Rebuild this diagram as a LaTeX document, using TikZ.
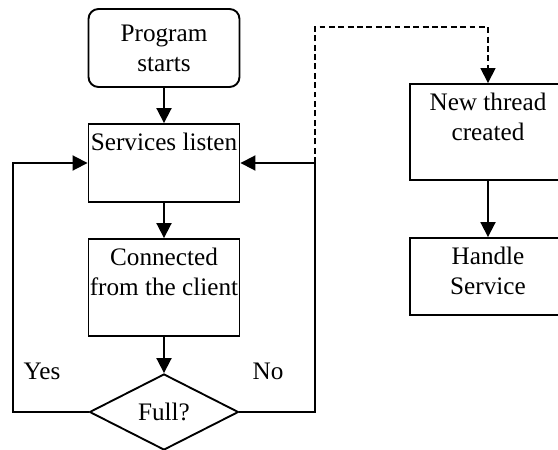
\documentclass[tikz,border=0pt]{standalone}
\usepackage{fontspec}
\setmainfont{Liberation Serif}
\usetikzlibrary{arrows.meta,shapes.geometric}

% text pinned to the top of a fixed-size box
\newcommand{\toptext}[3][4.53cm]{\parbox[c][#2][t]{#1}{\centering\vspace*{0.27cm}#3}}

\begin{document}
\begin{tikzpicture}[x=0.03cm,y=-0.03cm,line width=1.6pt,
		font=\fontsize{21.5}{25.5}\selectfont,
		flow/.style={-{Triangle[length=0.45cm,width=0.45cm]}},
		stepbox/.style={draw,rectangle,inner sep=0pt},
		startbox/.style={draw,rounded corners=0.3cm,minimum width=4.53cm,minimum height=2.34cm,align=center,inner sep=0pt},
		decision/.style={draw,diamond,aspect=2,minimum width=4.47cm,minimum height=2.28cm,inner sep=0pt}]
	\useasboundingbox (0,0) rectangle (558,450);
	% main loop
	\node[startbox] (start) at (164,48) {Program\\starts};
	\node[stepbox] (listen) at (164,163) {\toptext{2.34cm}{Services listen}};
	\node[stepbox] (conn) at (164,287.5) {\toptext{2.91cm}{Connected\\from the client}};
	\node[decision] (full) at (164,412) {Full?};
	% worker side
	\node[stepbox] (thread) at (488,132) {\toptext[4.68cm]{2.88cm}{New thread\\created}};
	\node[stepbox] (handle) at (488,276.5) {\toptext[4.68cm]{2.31cm}{Handle\\Service}};
	\node (yes) at (42,371) {Yes};
	\node (no) at (268,371) {No};
	\coordinate (yesbend) at (13,412);
	\coordinate (nobend) at (315,412);
	\coordinate (fork) at (315,163);
	\coordinate (dashbend) at (315,27);
	\draw[flow] (start) -- (listen);
	\draw[flow] (listen) -- (conn);
	\draw[flow] (conn) -- (full);
	\draw[flow] (full.west) -- (yesbend) |- (listen.west);
	\draw[flow] (full.east) -- (nobend) |- (listen.east);
	\draw[flow,line width=1.3pt,dash pattern=on 5pt off 3pt] (fork) -- (dashbend) -| (thread.north);
	\draw[flow] (thread) -- (handle);
\end{tikzpicture}
\end{document}
